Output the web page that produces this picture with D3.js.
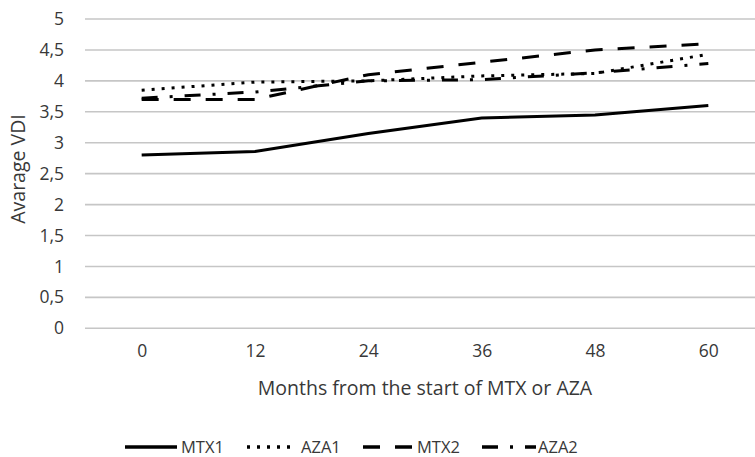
<!DOCTYPE html>
<html>
<head>
<meta charset="utf-8">
<script src="https://cdn.jsdelivr.net/npm/d3@7"></script>
<style>
  html, body { margin: 0; padding: 0; background: #fff; }
  svg { display: block; font-family: "Open Sans", Lato, sans-serif; }
</style>
</head>
<body>
<svg id="chart" width="755" height="457"></svg>
<script>
// Months since start of treatment
const months = [0, 12, 24, 36, 48, 60];
// Average VDI per group
const mtx1 = [2.8, 2.86, 3.15, 3.4, 3.45, 3.6];
const aza1 = [3.85, 3.98, 4.0, 4.08, 4.12, 4.43];
const mtx2 = [3.7, 3.7, 4.1, 4.3, 4.5, 4.6];
const aza2 = [3.72, 3.82, 4.0, 4.02, 4.13, 4.28];
const yTicks = [0, 0.5, 1, 1.5, 2, 2.5, 3, 3.5, 4, 4.5, 5];

const series = [
  { name: "MTX1", values: mtx1, dash: null },
  { name: "AZA1", values: aza1, dash: "3,7" },
  { name: "MTX2", values: mtx2, dash: "17,15" },
  { name: "AZA2", values: aza2, dash: "16,12,3,12" }
];

const FONT = "'Open Sans', Lato, sans-serif";
const INK = "#383838";
const svg = d3.select("#chart");

const x = d3.scalePoint().domain(months).range([85, 765]).padding(0.5);
const y = d3.scaleLinear().domain([0, 5]).range([328.3, 19]);

const fmt = v => String(v).replace(".", ",");

// horizontal gridlines
svg.append("g").selectAll("line").data(yTicks).join("line")
  .attr("x1", 85).attr("x2", 755)
  .attr("y1", d => y(d)).attr("y2", d => y(d))
  .attr("stroke", "#c6c6c6").attr("stroke-width", 1.6);

// y axis labels
const yAxis = d3.axisLeft(y).tickValues(yTicks).tickFormat(fmt).tickSize(0).tickPadding(0);
svg.append("g").attr("transform", "translate(64,0)").call(yAxis)
  .call(g => g.select(".domain").remove())
  .selectAll("text").attr("font-size", 17.5).attr("fill", INK)
  .attr("font-family", FONT);

// x axis labels
const xAxis = d3.axisBottom(x).tickSize(0).tickPadding(0);
svg.append("g").attr("transform", "translate(0,345)").call(xAxis)
  .call(g => g.select(".domain").remove())
  .selectAll("text").attr("font-size", 17.5).attr("fill", INK)
  .attr("font-family", FONT);

// axis titles
svg.append("text")
  .attr("x", 425).attr("y", 395)
  .attr("text-anchor", "middle").attr("font-size", 19.5).attr("fill", INK)
  .text("Months from the start of MTX or AZA");

svg.append("text")
  .attr("transform", "translate(25,169) rotate(-90)")
  .attr("text-anchor", "middle").attr("font-size", 19.5).attr("fill", INK)
  .text("Avarage VDI");

// series lines
const line = d3.line().x((d, i) => x(months[i])).y(d => y(d));
svg.append("g").selectAll("path").data(series).join("path")
  .attr("d", d => line(d.values))
  .attr("fill", "none").attr("stroke", "#000").attr("stroke-width", 3)
  .attr("stroke-dasharray", d => d.dash);

// legend
const legendItems = [
  { s: series[0], x1: 125, x2: 177, tx: 181 },
  { s: series[1], x1: 247, x2: 294, tx: 301 },
  { s: series[2], x1: 363, x2: 412, tx: 417 },
  { s: series[3], x1: 482, x2: 536, tx: 538 }
];
const lg = svg.append("g");
lg.selectAll("line").data(legendItems).join("line")
  .attr("x1", d => d.x1).attr("x2", d => d.x2)
  .attr("y1", 447).attr("y2", 447)
  .attr("stroke", "#000").attr("stroke-width", 3.5)
  .attr("stroke-dasharray", d => d.s.dash);
lg.selectAll("text").data(legendItems).join("text")
  .attr("x", d => d.tx).attr("y", 453)
  .attr("font-size", 16.5).attr("fill", INK)
  .text(d => d.s.name);
</script>
</body>
</html>
